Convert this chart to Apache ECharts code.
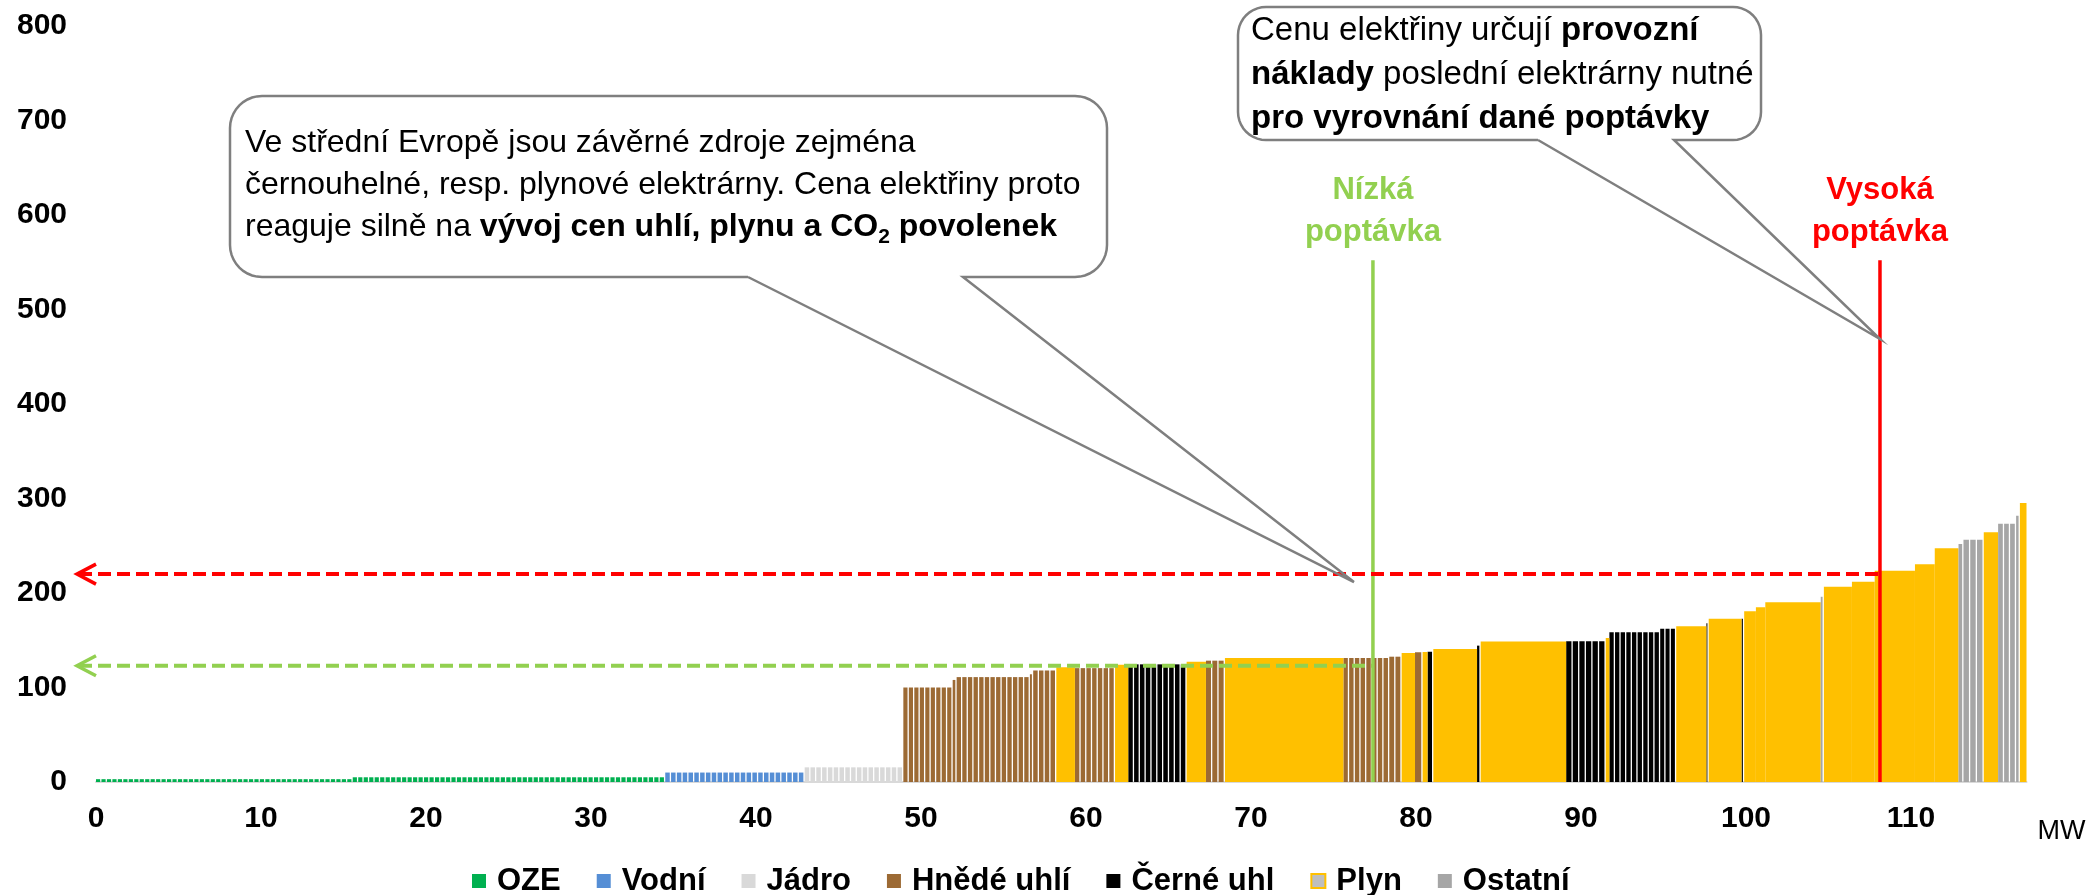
<!DOCTYPE html>
<html>
<head>
<meta charset="utf-8">
<script src="https://cdn.jsdelivr.net/npm/echarts@6/dist/echarts.min.js"></script>
<style>
html, body { margin: 0; padding: 0; background: #ffffff; }
#chart { width: 2092px; height: 895px; }
</style>
</head>
<body>
<div id="chart"></div>
<script>
// ---- DATA ----
// each block: [start MW, end MW, price, number of units in the block]
const OZE = [[0, 15.56, 3, 47], [15.56, 34.5, 5, 57]];
const VODNI = [[34.5, 42.95, 10, 24]];
const JADRO = [[42.95, 48.93, 15.5, 17]];
const HNEDE_UHLI = [
  [48.93, 51.92, 100, 9],
  [51.92, 52.16, 108, 1],
  [52.16, 56.60, 111, 13],
  [56.60, 56.80, 114, 1],
  [56.80, 58.20, 118, 4],
  [59.33, 61.76, 120.5, 7],
  [67.27, 68.42, 128.4, 3],
  [75.60, 78.38, 131.2, 8],
  [78.38, 79.13, 132.6, 2],
  [79.94, 80.40, 137.2, 1]
];
const CERNE_UHLI = [
  [62.56, 66.10, 124.5, 10],
  [80.70, 81.05, 137.9, 1],
  [83.70, 83.92, 144.3, 1],
  [89.10, 91.50, 148.9, 6],
  [91.72, 94.80, 158.4, 9],
  [94.80, 95.77, 162.3, 3],
  [97.60, 97.74, 167.9, 1],
  [99.73, 99.89, 172.8, 1]
];
const PLYN = [
  [58.20, 59.33, 121.4, 1],
  [61.76, 62.56, 124.2, 1],
  [66.10, 67.27, 127.3, 1],
  [68.42, 75.60, 131.2, 1],
  [79.13, 79.94, 136.5, 1],
  [80.40, 80.70, 137.5, 1],
  [81.05, 83.70, 140.7, 1],
  [83.92, 89.10, 148.6, 1],
  [91.50, 91.72, 152.4, 1],
  [95.77, 97.60, 164.7, 1],
  [97.74, 99.73, 172.8, 1],
  [99.89, 100.60, 180.6, 1],
  [100.60, 101.17, 184.8, 1],
  [101.17, 104.53, 190.1, 1],
  [104.72, 106.42, 206.7, 1],
  [106.42, 107.80, 212.0, 1],
  [107.80, 110.24, 223.6, 1],
  [110.24, 111.44, 230.3, 1],
  [111.44, 112.88, 247.3, 1],
  [114.41, 115.28, 264.2, 1],
  [116.60, 117.00, 295.2, 1]
];
const OSTATNI = [
  [104.53, 104.72, 196.0, 1],
  [112.88, 113.18, 251.9, 1],
  [113.18, 114.41, 256.4, 3],
  [115.28, 116.37, 273.4, 3],
  [116.37, 116.60, 281.8, 1]
];
const SERIES_NAMES = ['OZE', 'Vodní', 'Jádro', 'Hnědé uhlí', 'Černé uhl', 'Plyn', 'Ostatní'];
const SERIES_DATA = [OZE, VODNI, JADRO, HNEDE_UHLI, CERNE_UHLI, PLYN, OSTATNI];
const SERIES_COLORS = ['#00b050', '#558ed5', '#d9d9d9', '#9c6a34', '#000000', '#ffc000', '#a6a6a6'];

// demand: [MW, clearing price, top of the marker line]
const DEMAND = [[77.39, 123, 552], [108.12, 220, 552]];
const DEMAND_LABELS = ['Nízká\npoptávka', 'Vysoká\npoptávka'];
const DEMAND_COLORS = ['#92d050', '#ff0000'];

// callout pointer targets [MW, price]
const LEFT_TIP = [76.24, 211.6];
const RIGHT_TIP = [108.12, 468.8];

const X_MIN = 0, X_MAX = 117, X_STEP = 10;
const Y_MIN = 0, Y_MAX = 800, Y_STEP = 100;
const X_NAME = 'MW';

// ---- CHART ----
const FONT = '"Liberation Sans", Arial, sans-serif';
const chart = echarts.init(document.getElementById('chart'), null, { renderer: 'canvas' });

function blockRenderer(gap) {
  return function (params, api) {
    const x0 = api.value(0), x1 = api.value(1), p = api.value(2), n = api.value(3);
    const a = api.coord([x0, 0]);
    const b = api.coord([x1, p]);
    const w = (b[0] - a[0]) / n;
    const h = a[1] - b[1];
    const color = api.visual('color');
    const children = [];
    for (let i = 0; i < n; i++) {
      children.push({
        type: 'rect',
        shape: { x: a[0] + i * w, y: b[1], width: Math.max(w - gap, 0.8), height: h },
        style: { fill: color }
      });
    }
    return { type: 'group', children: children };
  };
}

function demandRenderer(params, api) {
  const i = params.dataIndex;
  const color = DEMAND_COLORS[i];
  const mw = api.value(0), price = api.value(1), top = api.value(2);
  const base = api.coord([mw, 0]);
  const topPt = api.coord([mw, top]);
  const hp = api.coord([mw, price]);
  const origin = api.coord([0, price]);
  const tipX = origin[0] - 19;
  return {
    type: 'group',
    children: [
      { type: 'line', shape: { x1: tipX + 2, y1: hp[1], x2: hp[0], y2: hp[1] },
        style: { stroke: color, lineWidth: 4, lineDash: [13, 6] } },
      { type: 'polyline', shape: { points: [[tipX + 19, hp[1] - 10], [tipX, hp[1]], [tipX + 19, hp[1] + 10]] },
        style: { stroke: color, lineWidth: 3.5, fill: 'none' } },
      { type: 'line', shape: { x1: base[0], y1: base[1], x2: topPt[0], y2: topPt[1] },
        style: { stroke: color, lineWidth: 3.5 } },
      { type: 'text', style: { text: DEMAND_LABELS[i], x: topPt[0], y: topPt[1] - 7,
        align: 'center', verticalAlign: 'bottom', fill: color,
        fontFamily: FONT, fontSize: 31, fontWeight: 'bold', lineHeight: 42 } }
    ]
  };
}

const series = SERIES_NAMES.map(function (name, k) {
  return {
    type: 'custom',
    name: name,
    data: SERIES_DATA[k],
    encode: { x: [0, 1], y: 2 },
    itemStyle: { color: SERIES_COLORS[k] },
    renderItem: blockRenderer(name === 'Plyn' ? 0 : 1.3),
    z: 2,
    silent: true
  };
});
series.push({
  type: 'custom',
  name: 'demand',
  data: DEMAND,
  encode: { x: 0, y: 1 },
  renderItem: demandRenderer,
  clip: false,
  z: 5,
  silent: true
});

const legendData = SERIES_NAMES.map(function (name, k) {
  if (name === 'Plyn') {
    return { name: name, itemStyle: { color: '#bfbfbf', borderColor: '#ffc000', borderWidth: 2 } };
  }
  return { name: name };
});

chart.setOption({
  animation: false,
  backgroundColor: '#ffffff',
  grid: { left: 96, right: 65.5, top: 26, bottom: 113, containLabel: false },
  xAxis: {
    type: 'value', min: X_MIN, max: X_MAX, interval: X_STEP,
    name: X_NAME, nameLocation: 'end', nameGap: 11,
    nameTextStyle: { fontFamily: FONT, fontSize: 27, color: '#000', align: 'left', verticalAlign: 'top', padding: [36, 0, 0, 0] },
    axisLine: { show: true, lineStyle: { color: '#d9d9d9', width: 2 } },
    axisTick: { show: false },
    splitLine: { show: false },
    axisLabel: {
      fontFamily: FONT, fontSize: 30, fontWeight: 'bold', color: '#000', margin: 22,
      formatter: function (v) { return v % X_STEP === 0 ? String(v) : ''; }
    }
  },
  yAxis: {
    type: 'value', min: Y_MIN, max: Y_MAX, interval: Y_STEP,
    axisLine: { show: false },
    axisTick: { show: false },
    splitLine: { show: false },
    axisLabel: { fontFamily: FONT, fontSize: 30, fontWeight: 'bold', color: '#000', margin: 29 }
  },
  legend: {
    data: legendData,
    left: 472, top: 865,
    padding: 0,
    icon: 'rect',
    itemWidth: 14, itemHeight: 14, itemGap: 36,
    textStyle: { fontFamily: FONT, fontSize: 31, fontWeight: 'bold', color: '#000', padding: [0, 0, 0, 6], lineHeight: 32 },
    selectedMode: false
  },
  series: series
});

// ---- CALLOUTS ----
function cornerPts(cx, cy, r, a0, a1) {
  const pts = [];
  const steps = 10;
  for (let i = 0; i <= steps; i++) {
    const a = a0 + (a1 - a0) * i / steps;
    pts.push([cx + r * Math.cos(a), cy + r * Math.sin(a)]);
  }
  return pts;
}
function bubblePoints(x1, y1, x2, y2, r, bx1, bx2, tip) {
  let pts = [[bx1, y2], [tip[0], tip[1]], [bx2, y2]];
  pts = pts.concat(cornerPts(x2 - r, y2 - r, r, Math.PI / 2, 0));
  pts = pts.concat(cornerPts(x2 - r, y1 + r, r, 0, -Math.PI / 2));
  pts = pts.concat(cornerPts(x1 + r, y1 + r, r, -Math.PI / 2, -Math.PI));
  pts = pts.concat(cornerPts(x1 + r, y2 - r, r, Math.PI, Math.PI / 2));
  pts.push([bx1, y2]);
  return pts;
}
const leftTip = chart.convertToPixel({ gridIndex: 0 }, LEFT_TIP);
const rightTip = chart.convertToPixel({ gridIndex: 0 }, RIGHT_TIP);

const richStyles = {
  n: { fontFamily: FONT, fontSize: 32, fill: '#000', lineHeight: 42 },
  b: { fontFamily: FONT, fontSize: 32, fontWeight: 'bold', fill: '#000', lineHeight: 42 },
  s: { fontFamily: FONT, fontSize: 21, fontWeight: 'bold', fill: '#000', lineHeight: 21, verticalAlign: 'bottom' }
};
const richStyles2 = {
  n: { fontFamily: FONT, fontSize: 33, fill: '#000', lineHeight: 44 },
  b: { fontFamily: FONT, fontSize: 33, fontWeight: 'bold', fill: '#000', lineHeight: 44 }
};

chart.setOption({
  graphic: [
    { type: 'polyline', z: 10, shape: { points: bubblePoints(230, 96, 1107, 277, 32, 748, 963, leftTip) },
      style: { fill: 'none', stroke: '#7f7f7f', lineWidth: 2.5 } },
    { type: 'text', z: 11, style: {
        x: 245, y: 122, verticalAlign: 'top', align: 'left',
        text: '{n|Ve střední Evropě jsou závěrné zdroje zejména}\n{n|černouhelné, resp. plynové elektrárny. Cena elektřiny proto}\n{n|reaguje silně na }{b|vývoj cen uhlí, plynu a CO}{s|2}{b| povolenek}',
        rich: richStyles } },
    { type: 'polyline', z: 10, shape: { points: bubblePoints(1238, 7, 1761, 140, 28, 1538, 1674, rightTip) },
      style: { fill: 'none', stroke: '#7f7f7f', lineWidth: 2.5 } },
    { type: 'text', z: 11, style: {
        x: 1251, y: 9, verticalAlign: 'top', align: 'left',
        text: '{n|Cenu elektřiny určují }{b|provozní}\n{b|náklady}{n| poslední elektrárny nutné}\n{b|pro vyrovnání dané poptávky}',
        rich: richStyles2 } }
  ]
});
</script>
</body>
</html>
